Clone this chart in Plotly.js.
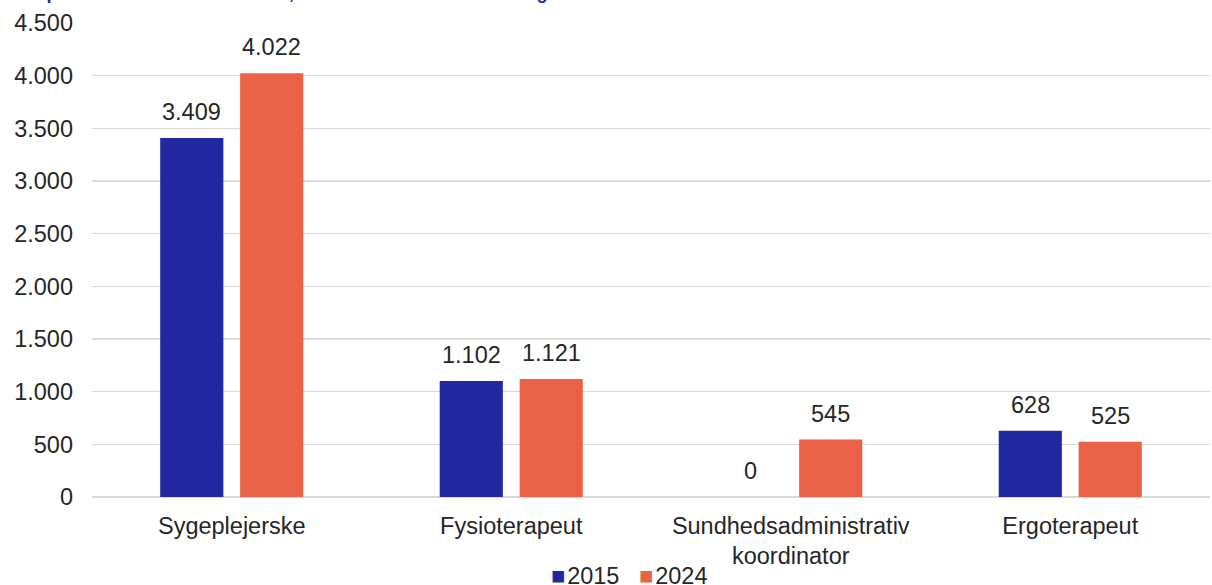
<!DOCTYPE html>
<html>
<head>
<meta charset="utf-8">
<script src="https://cdn.plot.ly/plotly-3.0.1.min.js"></script>
<style>html,body{margin:0;padding:0;background:#fff;}#chart{width:1212px;height:585px;}</style>
</head>
<body>
<div id="chart"></div>
<script>
const categories = ["Sygeplejerske", "Fysioterapeut", "Sundhedsadministrativ<br>koordinator", "Ergoterapeut"];
const values2015 = [3409, 1102, 0, 628];
const values2024 = [4022, 1121, 545, 525];
const seriesNames = ["2015", "2024"];
const seriesColors = ["#2128a0", "#e96146"];
const yTicks = [0, 500, 1000, 1500, 2000, 2500, 3000, 3500, 4000, 4500];
const titleText = "Alle personer ansat i kommunen, fuldtidsansatte i alt i 2015 og 2024";

const fontFam = "Liberation Sans, Arial, sans-serif";
const FS = 23.5;
const txtColor = "#262626";
function fmt(v) { return String(v).replace(/\B(?=(\d{3})+(?!\d))/g, "."); }

const allSeries = [values2015, values2024];
const traces = allSeries.map((vals, i) => ({
  type: "bar", name: seriesNames[i], x: categories, y: vals,
  marker: {color: seriesColors[i]}, hoverinfo: "none", showlegend: false
}));

const annotations = [];
allSeries.forEach((vals, i) => {
  vals.forEach((v, j) => {
    annotations.push({
      x: categories[j], y: v, xref: "x", yref: "y",
      text: fmt(v), showarrow: false, xanchor: "center", yanchor: "bottom",
      xshift: i === 0 ? -40 : 40, yshift: 11,
      font: {size: FS, color: txtColor, family: fontFam}
    });
  });
});
// title (cut off at the top edge like the reference)
annotations.push({
  text: "<b>" + titleText + "</b>", xref: "paper", yref: "paper", x: -0.0769, y: 1.038,
  xanchor: "left", yanchor: "bottom", showarrow: false,
  font: {size: 18.2, color: "#2128a0", family: fontFam}
});
// legend
annotations.push({
  text: "<span style='color:" + seriesColors[0] + "'>■</span>&#8202;" + seriesNames[0] +
        "&nbsp;&nbsp;&nbsp;<span style='color:" + seriesColors[1] + "'>■</span>&#8202;" + seriesNames[1],
  xref: "paper", yref: "paper", x: 0.48, y: -0.167, xanchor: "center", yanchor: "middle",
  showarrow: false, font: {size: FS, color: txtColor, family: fontFam}
});

const layout = {
  width: 1212, height: 585,
  margin: {l: 92, r: 2, t: 23, b: 88},
  paper_bgcolor: "#fff", plot_bgcolor: "#fff",
  font: {family: fontFam, size: FS, color: txtColor},
  barmode: "group", bargap: 0.428, bargroupgap: 0.21,
  xaxis: {showline: false, ticks: "", ticklabelstandoff: 12, tickfont: {size: FS, color: txtColor}, fixedrange: true},
  yaxis: {range: [0, 4500], tickvals: yTicks, ticktext: yTicks.map(fmt), showgrid: true, gridcolor: "#d9d9d9", gridwidth: 1.5,
          zeroline: true, zerolinecolor: "#d9d9d9", zerolinewidth: 1.5, showline: false, ticks: "",
          ticklabelstandoff: 18, tickfont: {size: FS, color: txtColor}, fixedrange: true},
  showlegend: false,
  annotations: annotations
};
Plotly.newPlot("chart", traces, layout, {displayModeBar: false, staticPlot: true});
</script>
</body>
</html>
